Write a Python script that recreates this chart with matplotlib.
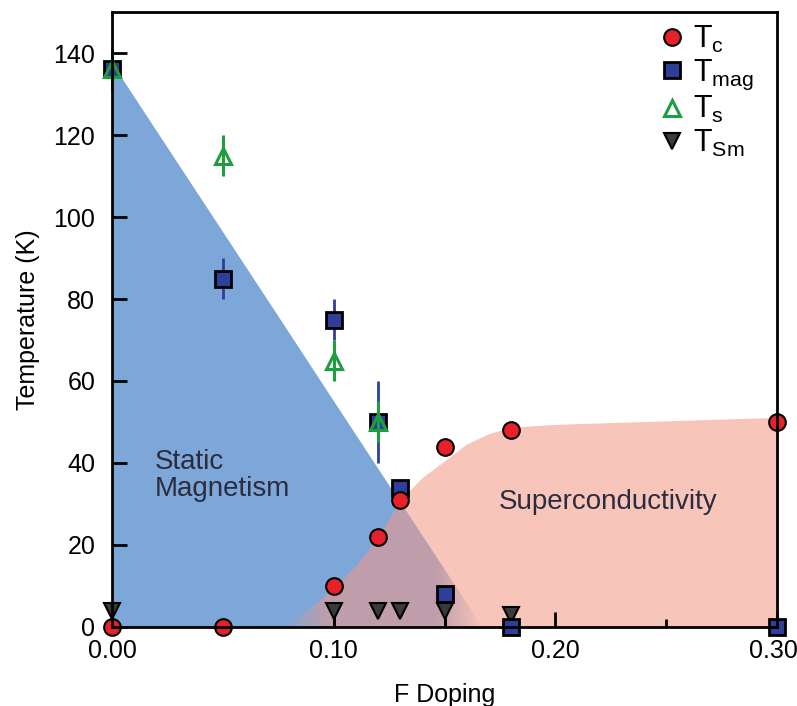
import numpy as np
import matplotlib
matplotlib.use("Agg")
import matplotlib.pyplot as plt
import matplotlib.transforms as mtransforms
from matplotlib.patches import Polygon
from matplotlib.ticker import MultipleLocator
from matplotlib.colors import to_rgb

plt.rcParams['font.family'] = ['Liberation Sans', 'DejaVu Sans']
plt.rcParams['mathtext.default'] = 'regular'

# ---- data ----
tc_x = [0.0, 0.05, 0.10, 0.12, 0.13, 0.15, 0.18, 0.30]
tc_y = [0, 0, 10, 22, 31, 44, 48, 50]

tmag_x = [0.0, 0.05, 0.10, 0.12, 0.13, 0.15, 0.18, 0.30]
tmag_y = [136, 85, 75, 50, 34, 8, 0, 0]
tmag_err = [0, 5, 5, 10, 1.5, 2, 0, 0]

ts_x = [0.0, 0.05, 0.10, 0.12]
ts_y = [136, 115, 65, 50]
ts_err = [5, 5, 5, 5]

tsm_x = [0.0, 0.10, 0.12, 0.13, 0.15, 0.18]
tsm_y = [4, 4, 4, 4, 4, 3]
tsm_err_low = [4, 4, 0, 0, 4, 0]

# shaded region boundaries
mag_x = [0.0, 0.167, 0.0]
mag_y = [137.5, 0, 0]
sc_x = [0.077, 0.09, 0.10, 0.11, 0.12, 0.13, 0.14, 0.15, 0.16, 0.17, 0.18, 0.20, 0.30]
sc_y = [0, 5, 9.5, 15, 22, 31, 36.5, 40.5, 44.5, 47.0, 48.6, 49.3, 51]

xticks = [0.00, 0.10, 0.20, 0.30]
xticklabels = ['0.00', '0.10', '0.20', '0.30']
yticks = [0, 20, 40, 60, 80, 100, 120, 140]

BLUE_FILL = '#7DA7D9'
PINK_FILL = '#F8C5BA'
PURPLE_FILL = '#C09DAA'
RED = '#E8202A'
SQ = '#2F3E98'
GREEN = '#1E9E3E'
DARK = '#3A3A3A'

fig = plt.figure(figsize=(7.97, 7.06), dpi=100)
ax = fig.add_axes([0.1405, 0.1119, 0.975 - 0.1405, 0.983 - 0.1119])

# regions
pink = ax.fill_between(sc_x, 0, sc_y, color=PINK_FILL, lw=0, zorder=1)
mag_poly = Polygon(list(zip(mag_x, mag_y)), closed=True, facecolor=BLUE_FILL,
                   edgecolor='none', zorder=1.5)
ax.add_patch(mag_poly)
ov = ax.fill_between(sc_x, 0, sc_y, color=PURPLE_FILL, lw=0, zorder=2)
ov.set_clip_path(mag_poly)

# soft edges of the overlap near the baseline
gx = np.linspace(0, 0.30, 600)
a_left = np.clip((0.097 - gx) / 0.02, 0, 1)
img_l = np.zeros((2, gx.size, 4))
img_l[..., :3] = to_rgb(BLUE_FILL)
img_l[..., 3] = a_left
im1 = ax.imshow(img_l, extent=[0, 0.30, 0, 150], aspect='auto', origin='lower',
                zorder=2.1, interpolation='bilinear')
im1.set_clip_path(mag_poly)
a_right = np.clip((gx - 0.146) / 0.021, 0, 1)
img_r = np.zeros((2, gx.size, 4))
img_r[..., :3] = to_rgb(PINK_FILL)
img_r[..., 3] = a_right
im2 = ax.imshow(img_r, extent=[0, 0.30, 0, 150], aspect='auto', origin='lower',
                zorder=2.2, interpolation='bilinear')
im2.set_clip_path(pink.get_paths()[0], ax.transData)

# error bars
ax.errorbar(tmag_x, tmag_y, yerr=tmag_err, fmt='none', ecolor=SQ, elinewidth=2,
            capsize=0, zorder=3.2, clip_on=False)
ax.errorbar(tsm_x, tsm_y, yerr=[tsm_err_low, [0] * len(tsm_x)], fmt='none',
            ecolor='black', elinewidth=2, capsize=0, zorder=3.1, clip_on=False)

# markers
ax.plot(tsm_x, tsm_y, 'v', ms=11.5, mfc=DARK, mec='black', mew=1.5, ls='none',
        zorder=4, clip_on=False, label=r'T$_{Sm}$')
ax.plot(tmag_x, tmag_y, 's', ms=11, mfc=SQ, mec='black', mew=2, ls='none',
        zorder=5, clip_on=False, label=r'T$_{mag}$')
ax.errorbar(ts_x, ts_y, yerr=ts_err, fmt='none', ecolor=GREEN, elinewidth=2.2,
            capsize=0, zorder=6, clip_on=False)
ax.plot(ts_x, ts_y, '^', ms=12, mfc='none', mec=GREEN, mew=2.2, ls='none',
        zorder=6, clip_on=False, label=r'T$_{s}$')
ax.plot(tc_x, tc_y, 'o', ms=12, mfc=RED, mec='black', mew=1.5, ls='none',
        zorder=7, clip_on=False, label=r'T$_{c}$')

ax.set_xlim(0, 0.30)
ax.set_ylim(0, 150)
ax.set_xticks(xticks)
ax.set_xticklabels(xticklabels)
ax.xaxis.set_minor_locator(MultipleLocator(0.05))
ax.set_yticks(yticks)
ax.tick_params(axis='both', which='major', direction='in', length=11, width=2,
               labelsize=18, pad=9)
ax.tick_params(axis='x', which='minor', direction='in', length=6, width=2)
ax.tick_params(axis='y', which='major', pad=12)
ax.xaxis.set_zorder(3)
ax.yaxis.set_zorder(3)
for s in ax.spines.values():
    s.set_linewidth(2)
    s.set_zorder(8)

# keep last x tick label inside the canvas
lbl = ax.get_xticklabels()[-1]
lbl.set_transform(lbl.get_transform() + mtransforms.ScaledTranslation(-4 / 100, 0, fig.dpi_scale_trans))

ax.set_xlabel('F Doping', fontsize=18, labelpad=14)
ax.set_ylabel('Temperature (K)', fontsize=18, labelpad=10)

ax.text(0.0194, 37, 'Static\nMagnetism', fontsize=20, color='#2B2D3E',
        ha='left', va='center', linespacing=1.05, zorder=9)
ax.text(0.1744, 30.5, 'Superconductivity', fontsize=20, color='#2B2D3E',
        ha='left', va='center', zorder=9)

h, l = ax.get_legend_handles_labels()
order = [3, 1, 2, 0]
ax.legend([h[i] for i in order], [l[i] for i in order], loc='upper right',
          bbox_to_anchor=(0.998, 1.015), frameon=False, fontsize=22,
          handletextpad=0.15, labelspacing=0.08, borderaxespad=0.3,
          handlelength=1.1)

fig.savefig('out.png', dpi=100)
